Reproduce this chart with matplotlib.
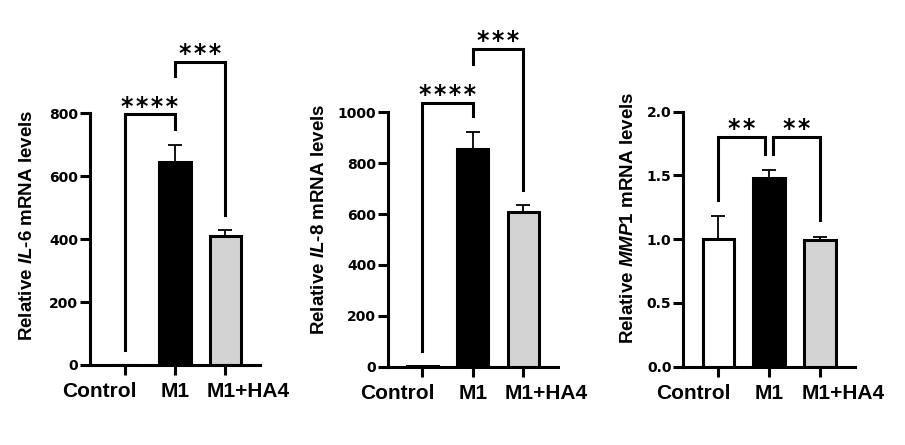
import matplotlib
matplotlib.use("Agg")
import matplotlib.pyplot as plt

plt.rcParams['font.family'] = ['Liberation Sans', 'DejaVu Sans']
plt.rcParams['font.weight'] = 'bold'
plt.rcParams['mathtext.fontset'] = 'custom'
plt.rcParams['mathtext.rm'] = 'Liberation Sans:bold'
plt.rcParams['mathtext.it'] = 'Liberation Sans:italic:bold'

groups = ['Control', 'M1', 'M1+HA4']
bar_colors = ['white', 'black', '#d3d3d3']

il6_mean = [1, 645, 410]
il6_err = [0, 53, 18]
il8_mean = [1, 856, 608]
il8_err = [0, 65, 26]
mmp1_mean = [1.0, 1.48, 0.99]
mmp1_err = [0.18, 0.06, 0.03]

# brackets: (left group, right group, bar height, left leg end, right leg end, stars, left shift, right shift)
il6_sig = [(0, 1, 796, 48, 749, '****', 0, 0),
           (1, 2, 963, 917, 476, '***', 0, 0)]
il8_sig = [(0, 1, 1037, 63, 984, '****', 0, 0),
           (1, 2, 1250, 1190, 693, '***', 0, 0)]
mmp1_sig = [(0, 1, 1.80, 1.31, 1.67, '**', 0, -0.085),
            (1, 2, 1.80, 1.67, 1.15, '**', 0.085, 0)]

panels = [
    dict(pos=[0.0994, 0.1798, 0.1878, 0.566], mean=il6_mean, err=il6_err, sig=il6_sig,
         ylim=800, ticks=[0, 200, 400, 600, 800], fmt='{:.0f}',
         label=r'Relative $\mathit{IL}$-$\mathit{6}$ mRNA levels', lx=-0.365, ly=0.556),
    dict(pos=[0.4284, 0.176, 0.1882, 0.5717], mean=il8_mean, err=il8_err, sig=il8_sig,
         ylim=1000, ticks=[0, 200, 400, 600, 800, 1000], fmt='{:.0f}',
         label=r'Relative $\mathit{IL}$-$\mathit{8}$ mRNA levels', lx=-0.40, ly=0.58),
    dict(pos=[0.755, 0.176, 0.1897, 0.573], mean=mmp1_mean, err=mmp1_err, sig=mmp1_sig,
         ylim=2.0, ticks=[0, 0.5, 1.0, 1.5, 2.0], fmt='{:.1f}',
         label=r'Relative $\mathit{MMP1}$ mRNA levels', lx=-0.32, ly=0.583),
]

# category labels are spread apart (points) so they don't collide
label_shift = [-18, 0, 16.5]

lw = 2.2
fig = plt.figure(figsize=(9.05, 4.45), dpi=100)

for p in panels:
    ax = fig.add_axes(p['pos'])
    x = list(range(len(groups)))
    ax.bar(x, p['mean'], width=0.62, color=bar_colors, edgecolor='black',
           linewidth=lw, zorder=2)
    ax.errorbar(x, p['mean'], yerr=[[0] * 3, p['err']], fmt='none', ecolor='black',
                elinewidth=1.3, capsize=5, capthick=1.3, zorder=1.9)
    ax.set_xlim(-0.69, 2.69)
    ax.set_ylim(0, p['ylim'])
    ax.set_yticks(p['ticks'])
    ax.set_yticklabels([p['fmt'].format(t) for t in p['ticks']], fontsize=10,
                       fontweight='bold', family='DejaVu Sans')
    ax.set_xticks(x)
    ax.set_xticklabels([])
    for i, (g, dx) in enumerate(zip(groups, label_shift)):
        ax.annotate(g, xy=(i, 0), xycoords=('data', 'axes fraction'), xytext=(dx, -12.5),
                    textcoords='offset points', ha='center', va='top',
                    fontsize=15, fontweight='bold', annotation_clip=False)
    ax.spines['top'].set_visible(False)
    ax.spines['right'].set_visible(False)
    ax.spines['left'].set_linewidth(lw)
    ax.spines['bottom'].set_linewidth(lw)
    ax.tick_params(axis='y', length=7, width=lw, pad=1.5)
    ax.tick_params(axis='x', length=7, width=lw)
    ax.set_ylabel(p['label'], fontsize=13.5, fontweight='bold', va='center')
    ax.yaxis.set_label_coords(p['lx'], p['ly'])

    for g1, g2, yb, yl, yr, stars, s1, s2 in p['sig']:
        xa = g1 + s1
        xb = g2 + s2
        ax.plot([xa, xa, xb, xb], [yl, yb, yb, yr], color='black', linewidth=lw,
                clip_on=False, solid_joinstyle='miter', zorder=4)
        ax.annotate('\u200a'.join(stars), xy=((xa + xb) / 2, yb), xytext=(0, 0.5),
                    textcoords='offset points', ha='center', va='baseline',
                    fontsize=17, fontweight='bold', family='DejaVu Sans',
                    annotation_clip=False)

fig.savefig('out.png', dpi=100)
